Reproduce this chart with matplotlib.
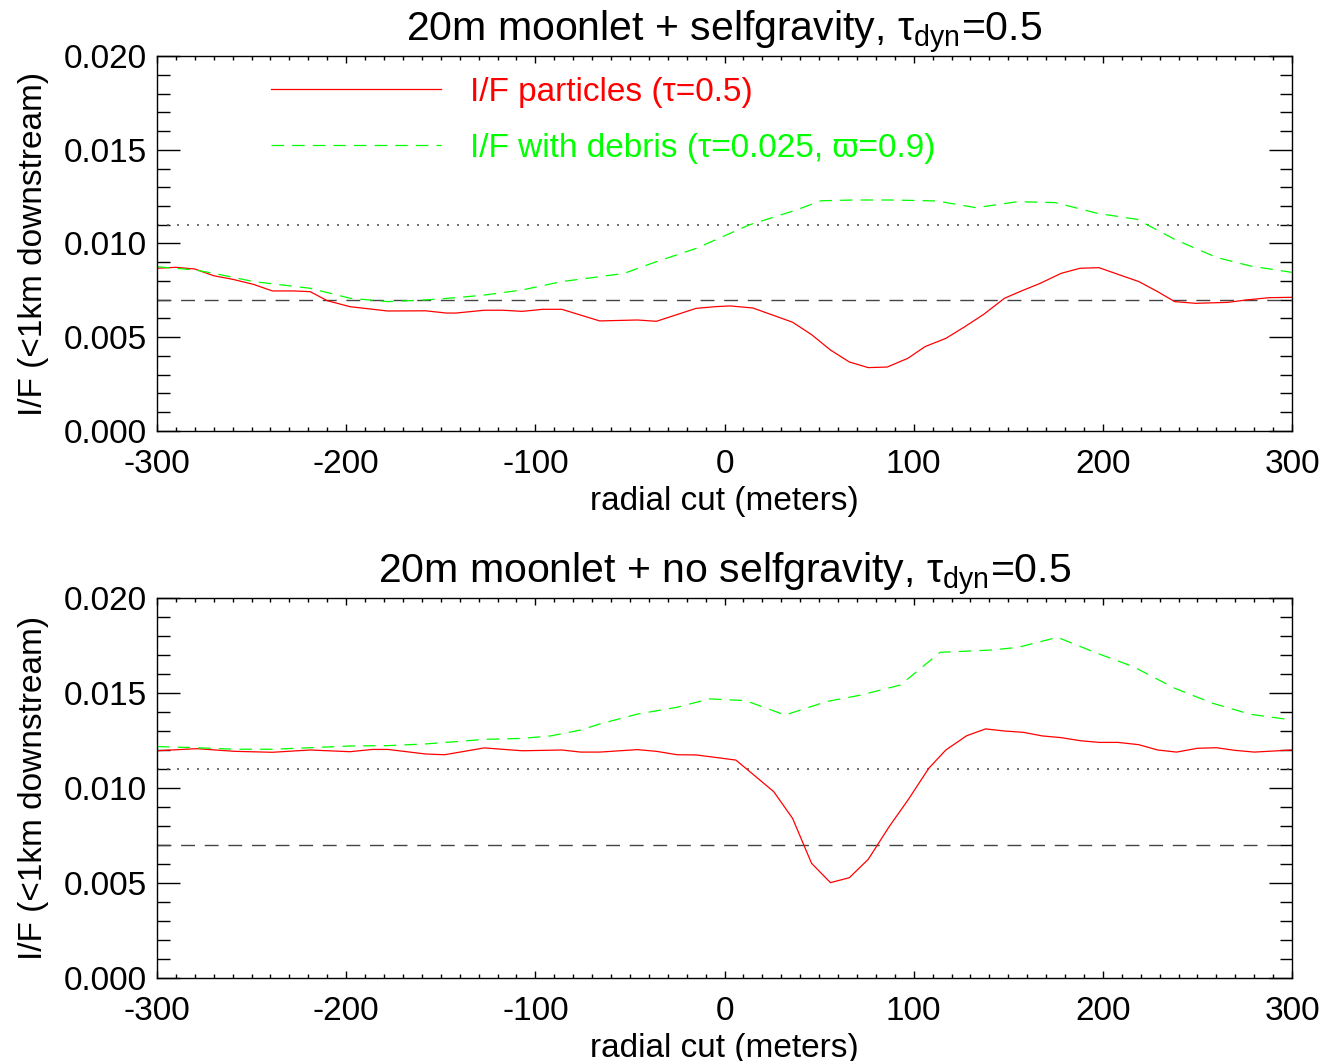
import numpy as np
import matplotlib
matplotlib.use('Agg')
from matplotlib import pyplot as plt
from matplotlib.ticker import MultipleLocator, FormatStrFormatter

plt.rcParams['font.family'] = ['Liberation Sans', 'DejaVu Sans']
plt.rcParams['mathtext.fontset'] = 'custom'
plt.rcParams['mathtext.rm'] = 'Liberation Sans'
plt.rcParams['mathtext.it'] = 'Liberation Sans'
plt.rcParams['axes.unicode_minus'] = False

# ---- data ----
# top panel: with selfgravity
sg_red_x = [-300, -290, -280, -270, -260, -249, -239, -228, -219, -210,
            -198, -178, -158, -147, -142, -127, -117, -107, -96, -86,
            -66, -46, -36, -15, -5, 3, 15, 36, 46, 56,
            66, 76, 86, 97, 106, 117, 127, 137, 148, 157,
            167, 178, 188, 198, 209, 219, 229, 238, 249, 266,
            276, 288, 300]
sg_red_y = [.00868, .00873, .00864, .00828, .00809, .00782, .00747, .00747, .00743, .00695,
            .00663, .00640, .00641, .00629, .00629, .00644, .00644, .00638, .00649, .00649,
            .00587, .00592, .00585, .00654, .00663, .00667, .00656, .00580, .00514, .00432,
            .00368, .00338, .00341, .00388, .00450, .00494, .00556, .00622, .00708, .00747,
            .00788, .00841, .00868, .00871, .00832, .00797, .00743, .00690, .00681, .00686,
            .00699, .00711, .00713]
sg_grn_x = [-300, -280, -270, -249, -219, -198, -178, -158, -142, -127,
            -107, -86, -66, -53, -36, -15, 13, 38, 51, 68,
            88, 112, 133, 155, 175, 197, 218, 238, 260, 278, 300]
sg_grn_y = [.00876, .00859, .00841, .00797, .00761, .00708, .00690, .00699, .00711, .00725,
            .00752, .00797, .00823, .00841, .00903, .00974, .01099, .01179, .01228, .01232,
            .01232, .01227, .01191, .01223, .01218, .01161, .01129, .01022, .00926, .00880, .00846]

# bottom panel: no selfgravity
ng_red_x = [-300, -279, -259, -239, -219, -198, -186, -178, -158, -148,
            -127, -107, -86, -76, -66, -46, -36, -25, -15, -4,
            6, 14, 26, 36, 46, 56, 66, 76, 87, 97,
            108, 117, 128, 138, 148, 158, 168, 178, 188, 198,
            208, 219, 229, 239, 250, 260, 270, 280, 300]
ng_red_y = [.01196, .01207, .01193, .01188, .01200, .01191, .01203, .01203, .01179, .01175,
            .01211, .01196, .01200, .01189, .01189, .01202, .01193, .01175, .01174, .01160,
            .01147, .01081, .00981, .00840, .00604, .00502, .00528, .00625, .00796, .00937,
            .01104, .01200, .01275, .01311, .01300, .01293, .01274, .01265, .01249, .01240,
            .01240, .01228, .01200, .01189, .01209, .01212, .01198, .01189, .01200]
ng_grn_x = [-300, -279, -259, -239, -219, -198, -178, -158, -142, -127,
            -107, -92, -76, -66, -46, -25, -8, 11, 32, 54,
            72, 93, 114, 141, 155, 176, 197, 216, 238, 258, 278, 300]
ng_grn_y = [.01218, .01212, .01204, .01204, .01212, .01221, .01223, .01232, .01244, .01256,
            .01261, .01274, .01305, .01337, .01389, .01425, .01469, .01460, .01384, .01455,
            .01489, .01542, .01714, .01726, .01740, .01793, .01709, .01639, .01525, .01446,
            .01388, .01358]

ref_dotted = 0.011
ref_dashed = 0.007

titles = [r'20m moonlet + selfgravity, τ$_{\rm dyn}$=0.5',
          r'20m moonlet + no selfgravity, τ$_{\rm dyn}$=0.5']
lbl_red = 'I/F particles (τ=0.5)'
lbl_grn = 'I/F with debris (τ=0.025, ϖ=0.9)'

red = '#ff0000'
green = '#00ff00'
fs = 24

fig = plt.figure(figsize=(13.35, 10.61), dpi=100)
ax1 = fig.add_axes([0.1176, 0.5938, 0.8502, 0.3534])
ax2 = fig.add_axes([0.1176, 0.0782, 0.8502, 0.3582])

panels = [(ax1, sg_red_x, sg_red_y, sg_grn_x, sg_grn_y),
          (ax2, ng_red_x, ng_red_y, ng_grn_x, ng_grn_y)]

for i, (ax, rx, ry, gx, gy) in enumerate(panels):
    ax.axhline(ref_dotted, color='#555555', lw=1.2, linestyle=(0, (1.2, 4.8)))
    ax.axhline(ref_dashed, color='#444444', lw=1.0, linestyle=(0, (10, 7)))
    ax.plot(rx, ry, color=red, lw=0.9, label=lbl_red)
    ax.plot(gx, gy, color=green, lw=0.9, linestyle=(0, (10, 6.5)), label=lbl_grn)

    ax.set_xlim(-300, 300)
    ax.set_ylim(0, 0.020)
    ax.xaxis.set_major_locator(MultipleLocator(100))
    ax.xaxis.set_minor_locator(MultipleLocator(10))
    ax.yaxis.set_major_locator(MultipleLocator(0.005))
    ax.yaxis.set_minor_locator(MultipleLocator(0.001))
    ax.yaxis.set_major_formatter(FormatStrFormatter('%.3f'))
    ax.tick_params(axis='both', which='both', direction='in', top=True, right=True,
                   labelsize=fs, width=1)
    ax.tick_params(axis='x', which='major', length=5, pad=13)
    ax.tick_params(axis='x', which='minor', length=3)
    ax.tick_params(axis='y', which='major', length=16.5, pad=7)
    ax.tick_params(axis='y', which='minor', length=9)
    for s in ax.spines.values():
        s.set_linewidth(1)

    ax.set_xlabel('radial cut (meters)', fontsize=fs, labelpad=4)
    ax.set_ylabel('I/F (<1km downstream)', fontsize=fs, labelpad=11)
    ax.set_title(titles[i], fontsize=29.5, pad=6)

leg = ax1.legend(loc='upper left', bbox_to_anchor=(0.1004, 0.945), frameon=False,
                 fontsize=fs, handlelength=5.1, handletextpad=0.87, labelspacing=0.76,
                 borderpad=0, borderaxespad=0, labelcolor='linecolor')

fig.savefig('out.png', dpi=100)
